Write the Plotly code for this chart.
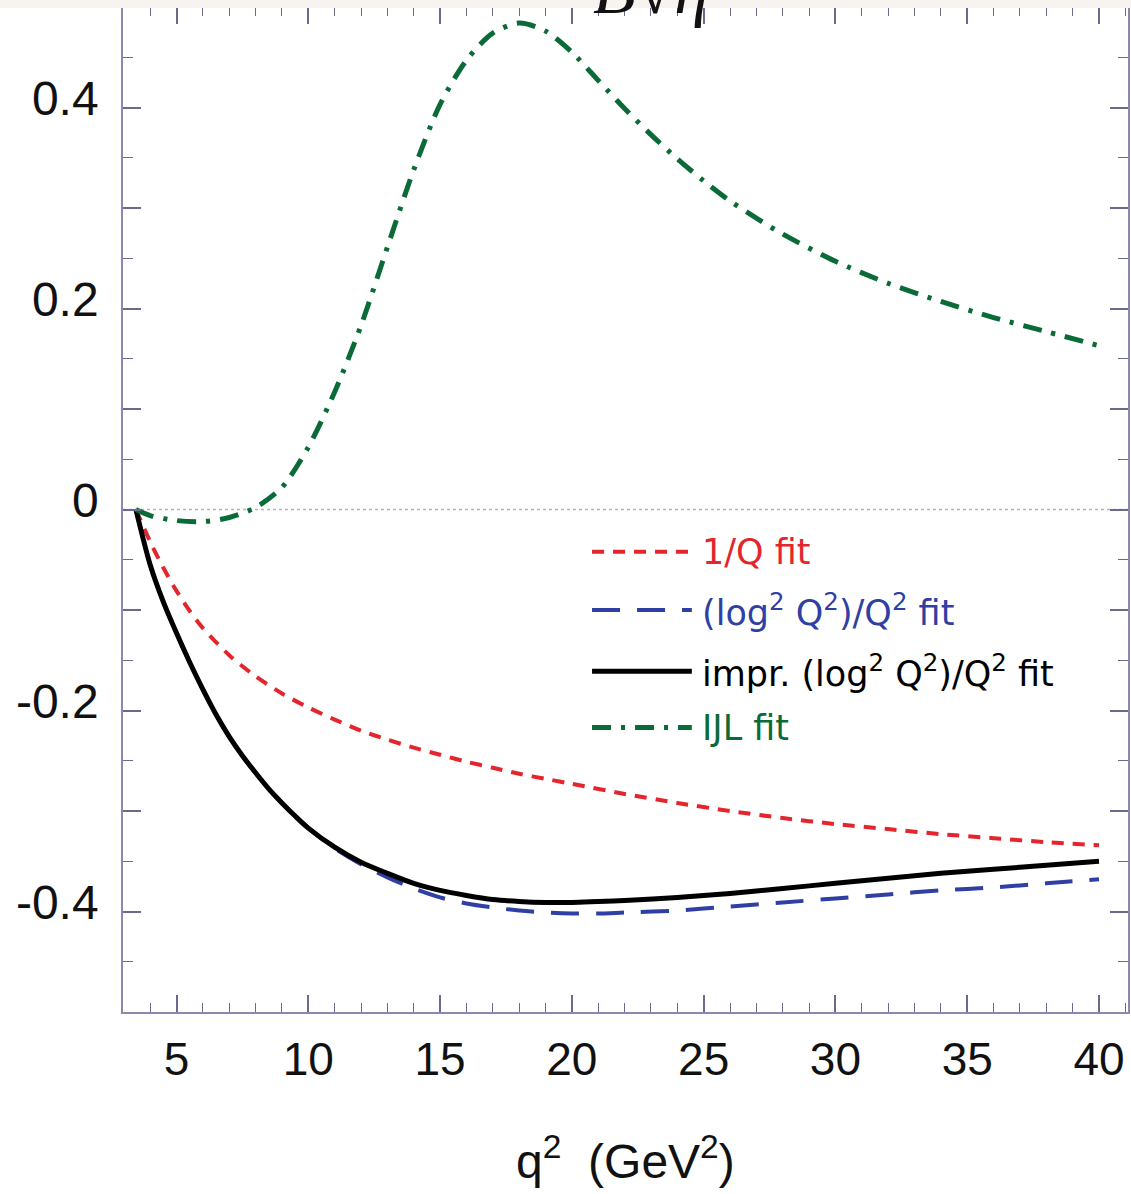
import plotly.graph_objects as go

# q^2 grid (GeV^2) and the four fitted curves
q2_red = [3.46, 4.0, 4.5, 5.0, 5.5, 6.0, 7.0, 8.0, 9.0, 10.0, 11.0, 12.0, 13.0, 14.0, 15.0,
          16.0, 17.0, 18.0, 19.0, 20.0, 22.0, 24.0, 26.0, 28.0, 30.0, 32.0, 34.0, 36.0, 38.0, 40.0]
fit_1overQ = [0.0, -0.032, -0.058, -0.081, -0.101, -0.118, -0.145, -0.166, -0.183, -0.197, -0.209,
              -0.220, -0.229, -0.237, -0.244, -0.251, -0.257, -0.263, -0.268, -0.273, -0.283,
              -0.292, -0.300, -0.307, -0.313, -0.318, -0.323, -0.327, -0.331, -0.334]

q2_log = [3.46, 4.0, 4.5, 5.0, 5.5, 6.0, 6.5, 7.0, 7.5, 8.0, 8.5, 9.0, 9.5, 10.0, 11.0, 12.0, 13.0,
          14.0, 15.0, 16.0, 17.0, 18.0, 19.0, 20.0, 21.0, 22.0, 24.0, 26.0, 28.0, 30.0, 32.0,
          34.0, 36.0, 38.0, 40.0]
fit_log2 = [0.0, -0.055, -0.092, -0.123, -0.152, -0.179, -0.204, -0.226, -0.245, -0.262, -0.278,
            -0.292, -0.305, -0.317, -0.337, -0.353, -0.366, -0.377, -0.386, -0.392, -0.396,
            -0.399, -0.401, -0.402, -0.402, -0.401, -0.399, -0.395, -0.391, -0.387, -0.383,
            -0.379, -0.376, -0.372, -0.368]
fit_impr = [0.0, -0.055, -0.092, -0.123, -0.152, -0.179, -0.204, -0.226, -0.245, -0.262, -0.278,
            -0.292, -0.305, -0.317, -0.336, -0.351, -0.362, -0.372, -0.379, -0.384, -0.388,
            -0.390, -0.391, -0.391, -0.390, -0.389, -0.386, -0.382, -0.377, -0.372, -0.367,
            -0.362, -0.358, -0.354, -0.350]

q2_ijl = [3.46, 4.0, 5.0, 6.0, 7.0, 8.0, 9.0, 10.0, 11.0, 12.0, 13.0, 14.0, 15.0, 16.0, 17.0,
          18.0, 19.0, 20.0, 21.0, 22.0, 23.0, 24.0, 25.0, 26.0, 27.0, 28.0, 30.0, 32.0, 34.0,
          36.0, 38.0, 40.0]
fit_ijl = [0.0, -0.006, -0.011, -0.012, -0.008, 0.002, 0.022, 0.062, 0.117, 0.183, 0.261, 0.338,
           0.403, 0.447, 0.474, 0.484, 0.476, 0.455, 0.427, 0.399, 0.373, 0.349, 0.327, 0.307,
           0.290, 0.274, 0.247, 0.225, 0.207, 0.191, 0.177, 0.163]

x_ticks = [5, 10, 15, 20, 25, 30, 35, 40]
y_tickvals = [-0.5, -0.4, -0.3, -0.2, -0.1, 0.0, 0.1, 0.2, 0.3, 0.4, 0.5]
y_ticktext = ["", "-0.4", "", "-0.2", "", "0", "", "0.2", "", "0.4", ""]

legend_names = ["1/Q fit",
                "(log<sup>2</sup> Q<sup>2</sup>)/Q<sup>2</sup> fit",
                "impr. (log<sup>2</sup> Q<sup>2</sup>)/Q<sup>2</sup> fit",
                "IJL fit"]

RED, BLUE, BLACK, GREEN = "#e3262d", "#2f3fa3", "#000000", "#0b6b38"
styles = [
    dict(color=RED, width=4, dash="12px,9px"),
    dict(color=BLUE, width=4, dash="28px,17px"),
    dict(color=BLACK, width=5, dash="solid"),
    dict(color=GREEN, width=5, dash="19px,10px,4px,10px"),
]

fig = go.Figure()
series = [(q2_red, fit_1overQ), (q2_log, fit_log2), (q2_log, fit_impr), (q2_ijl, fit_ijl)]
for (xs, ys), st, name in zip(series, styles, legend_names):
    fig.add_trace(go.Scatter(x=xs, y=ys, mode="lines", name=name, showlegend=False,
                             line=dict(shape="spline", smoothing=0.8, **st)))

AXIS_COLOR = "#8a8ab0"
TICK_COLOR = "#6a6a8c"

fig.update_xaxes(range=[2.97, 41.1], tickvals=x_ticks, ticks="inside", ticklen=17,
                 tickcolor=TICK_COLOR, tickwidth=1.5, showline=True, linecolor=AXIS_COLOR,
                 linewidth=1.5, mirror="ticks", showgrid=False, zeroline=False,
                 tickfont=dict(family="Liberation Sans, Arial, sans-serif", size=46, color="#111"),
                 ticklabelstandoff=6,
                 minor=dict(dtick=1, tick0=0, ticks="inside", ticklen=9, tickcolor=TICK_COLOR,
                            tickwidth=1.2, showgrid=False))
fig.update_yaxes(range=[-0.5, 0.5], tickvals=y_tickvals, ticktext=y_ticktext, ticks="inside",
                 ticklen=18, tickcolor=TICK_COLOR, tickwidth=1.5, showline=True,
                 linecolor=AXIS_COLOR, linewidth=1.5, mirror="ticks", showgrid=False,
                 zeroline=False,
                 tickfont=dict(family="Liberation Sans, Arial, sans-serif", size=48, color="#111"),
                 ticklabelstandoff=13, ticklabelshift=-9,
                 minor=dict(dtick=0.05, tick0=0, ticks="inside", ticklen=10, tickcolor=TICK_COLOR,
                            tickwidth=1.2, showgrid=False))

shapes = [
    # dotted reference line at zero
    dict(type="line", xref="paper", x0=0, x1=1, yref="y", y0=0, y1=0,
         line=dict(color="#b4b4b4", width=1.5, dash="dot"), layer="below"),
    # light strip across the top edge
    dict(type="rect", xref="paper", yref="paper", x0=-0.2, x1=1.05, y0=0.999, y1=1.1,
         fillcolor="#f7f3ee", line=dict(width=0), layer="above"),
]

# hand-drawn legend: sample lines plus coloured labels
leg_x0, leg_x1, leg_tx = 0.4667, 0.566, 0.574
leg_y = [0.458, 0.400, 0.339, 0.283]
annotations = []
for st, name, yy in zip(styles, legend_names, leg_y):
    shapes.append(dict(type="line", xref="paper", yref="paper", x0=leg_x0, x1=leg_x1,
                       y0=yy, y1=yy, line=dict(color=st["color"], width=st["width"],
                                               dash=st["dash"])))
    annotations.append(dict(xref="paper", yref="paper", x=leg_tx, y=yy, text=name,
                            showarrow=False, xanchor="left", yanchor="middle",
                            font=dict(family="DejaVu Sans, sans-serif", size=35,
                                      color=st["color"])))

annotations.append(dict(xref="paper", yref="paper", x=0.5, y=-0.145,
                        text="q<sup>2</sup>&nbsp; (GeV<sup>2</sup>)", showarrow=False,
                        xanchor="center", yanchor="middle",
                        font=dict(family="Liberation Sans, Arial, sans-serif", size=48,
                                  color="#111")))
annotations.append(dict(xref="paper", yref="paper", x=0.525, y=0.977,
                        text="<i>B</i>√<i>η</i>", showarrow=False,
                        xanchor="center", yanchor="bottom",
                        font=dict(family="Liberation Serif, serif", size=70, color="#111")))

fig.update_layout(width=1131, height=1194, margin=dict(l=123, r=1, t=7, b=182),
                  paper_bgcolor="white", plot_bgcolor="white",
                  shapes=shapes, annotations=annotations)

fig.write_html("out.html")
